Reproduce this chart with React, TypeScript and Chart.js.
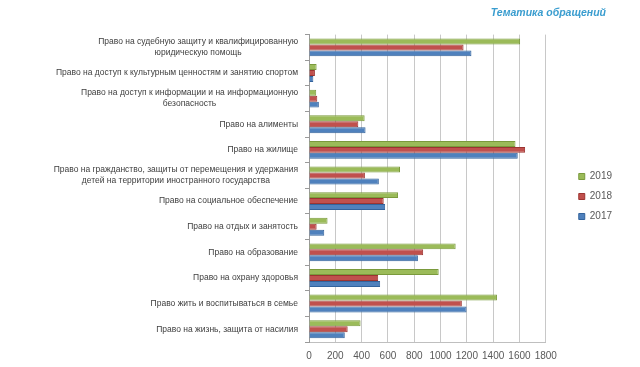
import React, { useEffect, useRef } from "react";
import { Chart, registerables } from "chart.js";
Chart.register(...registerables);

const categories: (string | string[])[] = [
  ["Право на судебную защиту и квалифицированную", "юридическую помощь"],
  "Право на доступ к культурным ценностям и занятию спортом",
  ["Право на доступ к информации и на информационную", "безопасность"],
  "Право на алименты",
  "Право на жилище",
  ["Право на гражданство, защиты от перемещения и удержания", "детей на территории иностранного государства"],
  "Право на социальное обеспечение",
  "Право на отдых и занятость",
  "Право на образование",
  "Право на охрану здоровья",
  "Право жить и воспитываться в семье",
  "Право на жизнь, защита от насилия",
];
const seriesNames = ["2019", "2018", "2017"];
const values2019 = [1605, 58, 55, 423, 1570, 692, 677, 141, 1115, 986, 1429, 392];
const values2018 = [1175, 45, 63, 375, 1643, 425, 568, 58, 868, 526, 1162, 294];
const values2017 = [1235, 33, 75, 430, 1587, 531, 579, 116, 828, 541, 1198, 272];
const xMin = 0;
const xMax = 1800;
const xStep = 200;
const titleText = "Тематика обращений";

const colors = ["#9bbb59", "#c0504d", "#4f81bd"];
const borders = ["#7a9a3c", "#9c3431", "#33639c"];
const FONT = "'Liberation Sans', Arial, sans-serif";

const labelPlugin = {
  id: "catLabels",
  afterDraw(chart: any) {
    const y = chart.scales.y;
    const ctx = chart.ctx;
    ctx.save();
    ctx.font = `8.5px ${FONT}`;
    ctx.fillStyle = "#404040";
    ctx.textBaseline = "middle";
    ctx.textAlign = "center";
    const right = y.right - 11;
    const lh = 11;
    categories.forEach((lab, i) => {
      const lines = Array.isArray(lab) ? lab : [lab];
      const w = Math.max(...lines.map((l) => ctx.measureText(l).width));
      const cx = right - w / 2;
      const cy = y.getPixelForValue(i);
      const top = cy - ((lines.length - 1) * lh) / 2;
      lines.forEach((l, k) => ctx.fillText(l, cx, top + k * lh));
    });
    ctx.restore();
  },
};

const EXTRA_W = 7;
const SHIFT_X = 23;
const SHIFT_Y = 13;
const legendPlacer = {
  id: "legendPlacer",
  beforeLayout(chart: any) {
    const lg = chart.legend;
    if (lg && !lg.__patched) {
      const orig = lg.fit.bind(lg);
      lg.fit = function () {
        orig();
        this.width += EXTRA_W;
      };
      lg.__patched = true;
    }
  },
  afterLayout(chart: any) {
    const lg = chart.legend;
    if (lg) {
      lg.left += SHIFT_X;
      lg.right += SHIFT_X;
      lg.top += SHIFT_Y;
      lg.bottom += SHIFT_Y;
    }
  },
};

export default function App() {
  const ref = useRef<HTMLCanvasElement>(null);
  useEffect(() => {
    if (!ref.current) return;
    const data = [values2019, values2018, values2017];
    const chart = new Chart(ref.current, {
      type: "bar",
      data: {
        labels: categories.map((c) => (Array.isArray(c) ? c.join(" ") : c)),
        datasets: seriesNames.map((n, i) => ({
          label: n,
          data: data[i],
          backgroundColor: colors[i],
          borderColor: borders[i],
          borderWidth: 1,
          barPercentage: 1,
          categoryPercentage: 0.7,
        })),
      },
      options: {
        indexAxis: "y",
        animation: false,
        responsive: false,
        maintainAspectRatio: false,
        layout: { padding: { left: 0, right: 34, top: 0, bottom: 0 } },
        plugins: {
          title: {
            display: true,
            text: titleText,
            align: "end",
            color: "#3a9dcf",
            font: { family: FONT, size: 10.5, style: "italic" },
            padding: { top: 7, bottom: 15 },
          },
          legend: {
            position: "right",
            align: "center",
            labels: {
              boxWidth: 6,
              boxHeight: 6,
              color: "#595959",
              font: { family: FONT, size: 10 },
              padding: 10,
            },
          },
          tooltip: { enabled: false },
        },
        scales: {
          x: {
            min: xMin,
            max: xMax,
            ticks: {
              stepSize: xStep,
              color: "#595959",
              font: { family: FONT, size: 10 },
              padding: 8,
              maxRotation: 0,
              minRotation: 0,
              autoSkip: false,
              callback: (v: any) => String(v),
            },
            grid: { color: "#c8c8c8", tickLength: 0 },
            border: { color: "#bfbfbf" },
            afterFit: (s: any) => { s.height = 25; },
          },
          y: {
            ticks: { display: false },
            grid: { drawOnChartArea: false, offset: true, tickLength: 4, color: "#9a9a9a" },
            border: { color: "#9a9a9a" },
            afterFit: (s: any) => { s.width = 309; },
          },
        },
      },
      plugins: [labelPlugin, legendPlacer],
    } as any);
    return () => chart.destroy();
  }, []);
  return (
    <div style={{ position: "fixed", left: 0, top: 0, width: 640, height: 367, background: "#fff" }}>
      <canvas ref={ref} width={640} height={367} />
    </div>
  );
}
